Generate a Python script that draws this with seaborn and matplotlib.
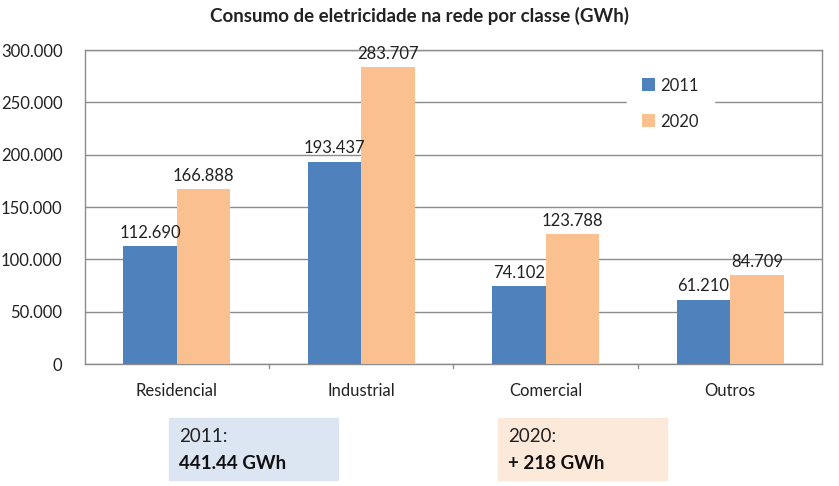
import matplotlib
matplotlib.use("Agg")
import matplotlib.pyplot as plt
import matplotlib.ticker as mticker
import seaborn as sns
import pandas as pd

# dados
classes = ["Residencial", "Industrial", "Comercial", "Outros"]
anos = ["2011", "2020"]
consumo_2011 = [112690, 193437, 74102, 61210]
consumo_2020 = [166888, 283707, 123788, 84709]
cores = ["#4F81BD", "#FAC090"]
caixa_2011 = ("2011:", "441.44 GWh")
caixa_2020 = ("2020:", "+ 218 GWh")

df = pd.DataFrame({
    "classe": classes * 2,
    "ano": [anos[0]] * 4 + [anos[1]] * 4,
    "gwh": consumo_2011 + consumo_2020,
})

sns.set_style("white")
plt.rcParams["font.family"] = ["Lato", "DejaVu Sans"]

fig = plt.figure(figsize=(8.39, 4.86), dpi=100)
ax = fig.add_axes([0.101, 0.251, 0.879, 0.646])

sns.barplot(data=df, x="classe", y="gwh", hue="ano", palette=cores,
            width=0.58, gap=0, saturation=1, linewidth=0, ax=ax, zorder=3)

def fmt(v):
    s = f"{int(round(v)):,}".replace(",", ".")
    return s

for cont in ax.containers:
    ax.bar_label(cont, labels=[fmt(b.get_height()) for b in cont],
                 padding=4, fontsize=12, color="#222222")

ax.set_ylim(0, 300000)
ax.set_yticks(range(0, 300001, 50000))
ax.yaxis.set_major_formatter(mticker.FuncFormatter(lambda v, p: fmt(v)))
ax.set_xlim(-0.5, 3.5)
ax.grid(axis="y", color="#8c8c8c", linewidth=1, zorder=0)
for s in ax.spines.values():
    s.set_color("#8c8c8c")
    s.set_linewidth(1)
ax.set_xlabel("")
ax.set_ylabel("")
ax.tick_params(axis="y", labelsize=12, pad=16, length=0, colors="#222222")
ax.tick_params(axis="x", labelsize=12, pad=14, length=0, colors="#222222")
for xs in [0.5, 1.5, 2.5]:
    ax.plot([xs, xs], [0, -4000], color="#8c8c8c", lw=1, clip_on=False)

leg = ax.legend(loc="upper left", bbox_to_anchor=(0.735, 0.96), frameon=True,
                fontsize=12, handlelength=0.8, handleheight=0.8,
                handletextpad=0.3, labelspacing=1.2, borderpad=0.9,
                borderaxespad=0)
leg.get_frame().set_facecolor("white")
leg.get_frame().set_edgecolor("white")
leg.get_frame().set_alpha(1)
leg.set_zorder(5)

fig.suptitle("Consumo de eletricidade na rede por classe (GWh)", y=0.985,
             fontsize=13.5, fontweight="bold", color="#222222")

for x0, cor, (t1, t2) in [(169, "#DCE6F2", caixa_2011), (498, "#FDE9D9", caixa_2020)]:
    fig.patches.append(plt.Rectangle((x0 / 839, 1 - 480 / 486), 169 / 839, 62 / 486,
                                     transform=fig.transFigure, color=cor, zorder=0))
    fig.text((x0 + 10) / 839, 1 - 437 / 486, t1, fontsize=13.5, va="center", color="#222222")
    fig.text((x0 + 10) / 839, 1 - 463 / 486, t2, fontsize=13.5, va="center",
             fontweight="bold", color="#111111")

fig.savefig("out.png", dpi=100)
